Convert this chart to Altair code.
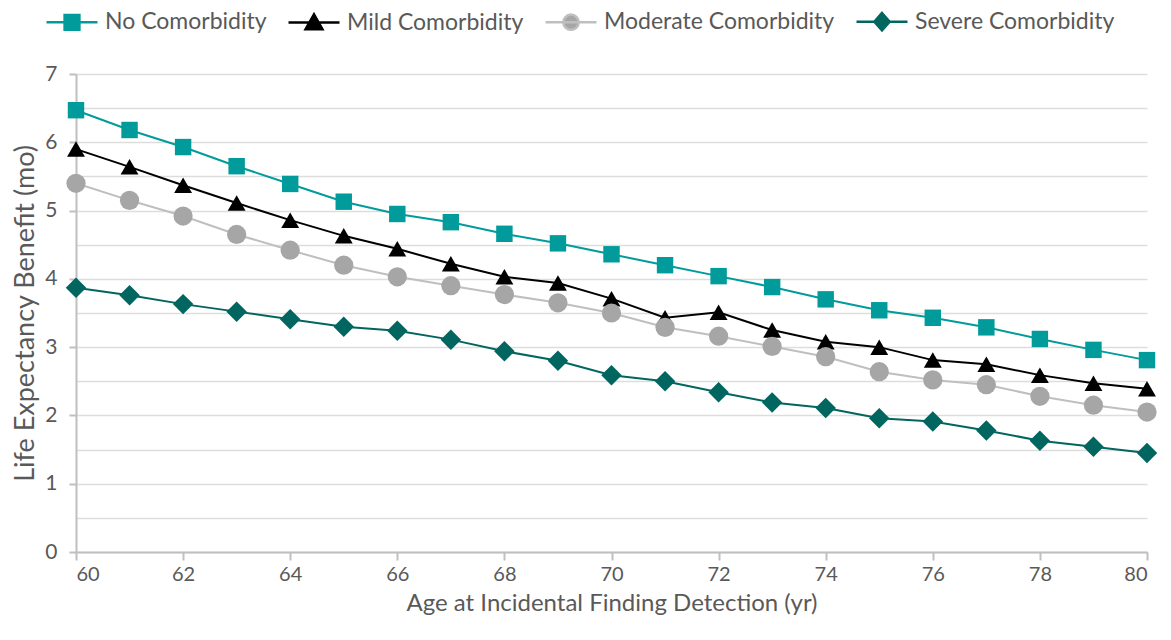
import altair as alt
import pandas as pd

# Age at detection (years)
ages = list(range(60, 81))

# Life expectancy benefit (months) by comorbidity level
no_comorbidity = [6.47, 6.18, 5.93, 5.65, 5.39, 5.13, 4.95, 4.83, 4.66, 4.52, 4.36,
                  4.20, 4.04, 3.88, 3.70, 3.54, 3.43, 3.29, 3.12, 2.96, 2.81]
mild = [5.90, 5.64, 5.37, 5.11, 4.86, 4.63, 4.44, 4.22, 4.03, 3.94, 3.71,
        3.43, 3.51, 3.25, 3.08, 3.00, 2.81, 2.75, 2.59, 2.47, 2.39]
moderate = [5.40, 5.15, 4.92, 4.65, 4.42, 4.20, 4.03, 3.90, 3.77, 3.65, 3.50,
            3.29, 3.16, 3.01, 2.86, 2.64, 2.52, 2.45, 2.28, 2.15, 2.05]
severe = [3.87, 3.76, 3.63, 3.52, 3.41, 3.30, 3.24, 3.11, 2.94, 2.80, 2.59,
          2.50, 2.34, 2.19, 2.11, 1.96, 1.91, 1.78, 1.63, 1.54, 1.45]

series_names = ["No Comorbidity", "Mild Comorbidity", "Moderate Comorbidity", "Severe Comorbidity"]
line_colors = ["#009B9A", "#000000", "#BFBFBF", "#00665F"]
marker_colors = ["#009B9A", "#000000", "#A6A6A6", "#00665F"]
marker_shapes = ["square", "triangle-up", "circle", "diamond"]
marker_sizes = [270, 420, 340, 380]

# Legend glyphs: a short line segment with the marker in the middle
legend_paths = [
    "M-1,0L1,0M-0.29,-0.29L0.29,-0.29L0.29,0.29L-0.29,0.29Z",
    "M-1,0L1,0M0,-0.32L0.33,0.26L-0.33,0.26Z",
    "M-1,0L1,0M-0.3,0A0.3,0.3 0 1,0 0.3,0A0.3,0.3 0 1,0 -0.3,0Z",
    "M-1,0L1,0M0,-0.34L0.3,0L0,0.34L-0.3,0Z",
]

rows = []
for name, vals in zip(series_names, [no_comorbidity, mild, moderate, severe]):
    for a, v in zip(ages, vals):
        rows.append({"age": a, "benefit": v, "series": name})
df = pd.DataFrame(rows)

FONT = "Lato"
TEXT = "#595959"

x_enc = alt.X(
    "age:Q",
    scale=alt.Scale(domain=[60, 80], nice=False, zero=False),
    axis=alt.Axis(
        values=list(range(60, 81, 2)), title="Age at Incidental Finding Detection (yr)",
        grid=False, tickSize=8, labelPadding=4, labelFontSize=20,
        titleX=535.5, titleY=51, titleBaseline="middle", titleFontSize=24,
    ),
)
y_enc = alt.Y(
    "benefit:Q",
    scale=alt.Scale(domain=[0, 7], nice=False),
    axis=alt.Axis(
        values=[i / 2 for i in range(0, 15)], title="Life Expectancy Benefit (mo)",
        grid=True, tickSize=7, labelPadding=12, labelFontSize=21,
        labelExpr="datum.value % 1 == 0 ? format(datum.value, 'd') : ''",
        tickOpacity={"condition": {"test": "datum.value % 1 != 0", "value": 0}, "value": 1},
        titleX=-51, titleY=239, titleBaseline="middle", titleFontSize=27,
    ),
)

base = alt.Chart(df)

lines = base.mark_line(strokeWidth=2).encode(
    x=x_enc, y=y_enc,
    color=alt.Color("series:N", scale=alt.Scale(domain=series_names, range=line_colors), legend=None),
    order=alt.Order("age:Q"),
)

points = base.mark_point(filled=True, opacity=1, strokeWidth=0).encode(
    x=x_enc, y=y_enc,
    fill=alt.Fill("series:N", scale=alt.Scale(domain=series_names, range=marker_colors), legend=None),
    shape=alt.Shape("series:N", scale=alt.Scale(domain=series_names, range=marker_shapes), legend=None),
    size=alt.Size("series:N", scale=alt.Scale(domain=series_names, range=marker_sizes), legend=None),
)

legend = alt.Legend(
    title=None, orient="none", direction="horizontal", legendX=-31, legendY=-79.5,
    symbolSize=2601, symbolStrokeWidth=2.5, labelOffset=6, columnPadding=16,
    labelFontSize=23, labelColor=TEXT, labelFont=FONT, labelLimit=400, padding=0,
)
legend_layer = base.transform_filter("false").mark_point(filled=True, opacity=1, strokeWidth=2.5).encode(
    x=x_enc, y=y_enc,
    fill=alt.Fill("series:N", scale=alt.Scale(domain=series_names, range=marker_colors), legend=legend),
    stroke=alt.Stroke("series:N", scale=alt.Scale(domain=series_names, range=line_colors), legend=legend),
    shape=alt.Shape("series:N", scale=alt.Scale(domain=series_names, range=legend_paths), legend=legend),
)

chart = (
    alt.layer(lines, points, legend_layer)
    .resolve_scale(fill="independent", shape="independent", color="independent", stroke="independent")
    .properties(
        width=1071, height=478,
        autosize=alt.AutoSizeParams(type="none"),
        padding={"left": 76, "top": 74, "right": 24, "bottom": 88},
    )
    .configure(font=FONT)
    .configure_view(stroke=None)
    .configure_axis(
        labelColor=TEXT, titleColor=TEXT, labelFont=FONT, titleFont=FONT,
        titleFontWeight="normal", domainColor="#BFBFBF", domainWidth=2,
        tickColor="#BFBFBF", tickWidth=2, gridColor="#DDDDDD", gridWidth=1.3,
    )
)

chart.save("out.html", embed_options={"renderer": "svg", "actions": False})
